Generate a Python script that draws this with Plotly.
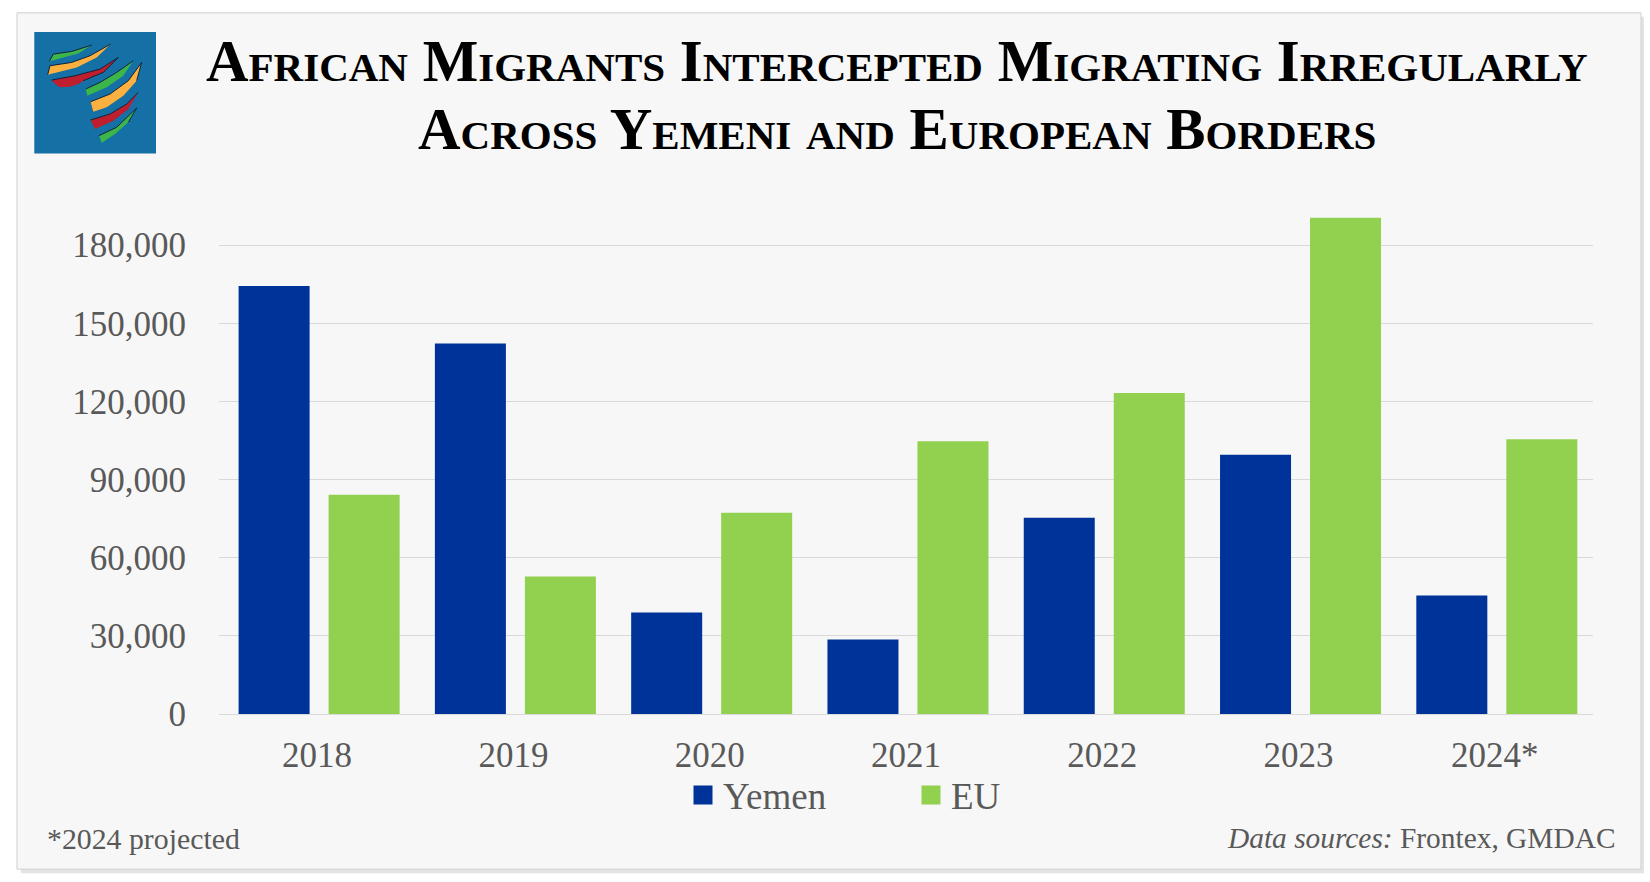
import plotly.graph_objects as go

years = ["2018", "2019", "2020", "2021", "2022", "2023", "2024*"]
yemen = [164300, 142200, 39000, 28600, 75300, 99500, 45500]
eu = [84200, 52800, 77300, 104700, 123200, 190500, 105500]
series_names = ["Yemen", "EU"]
series_colors = ["#003399", "#92d050"]

W, H = 1650, 882
L, R, T, B = 219, 1593, 192.5, 714.5
SERIF = "Liberation Serif"
GREY = "#595959"


def px(x):
    return (x - L) / (R - L)


def py(y):
    return (B - y) / (B - T)


def rect(x0, y0, x1, y1, fill, line=None):
    return dict(type="rect", xref="paper", yref="paper", layer="below",
                x0=px(x0), x1=px(x1), y0=py(y0), y1=py(y1), fillcolor=fill,
                line=dict(width=1 if line else 0, color=line or fill))


def path(points, fill=None, line=None, width=1, close=True):
    # logo artwork, given in zoomed (3x) picture pixels
    d = "M " + " L ".join(f"{px(a / 3):.5f},{py(b / 3):.5f}" for a, b in points)
    if close:
        d += " Z"
    return dict(type="path", xref="paper", yref="paper", layer="above", path=d,
                fillcolor=fill or "rgba(0,0,0,0)",
                line=dict(width=width if line else 0, color=line or "rgba(0,0,0,0)"))


logo_bands = [
    ("#3cb54a", [(148, 182), (160, 160), (215, 152), (275, 133), (235, 158), (190, 170)]),
    ("#fbb040", [(143, 222), (150, 195), (215, 185), (270, 165), (332, 130), (290, 170), (230, 200), (170, 215)]),
    ("#be1e2d", [(155, 238), (225, 225), (300, 205), (355, 170), (310, 215), (250, 240), (235, 250), (210, 258), (180, 260), (165, 250)]),
    ("#3cb54a", [(257, 265), (300, 245), (350, 215), (400, 180), (370, 225), (320, 260), (262, 285)]),
    ("#fbb040", [(272, 303), (330, 280), (385, 240), (425, 185), (410, 240), (370, 285), (320, 320), (280, 333)]),
    ("#be1e2d", [(272, 358), (330, 340), (380, 310), (415, 275), (385, 325), (340, 360), (285, 385)]),
    ("#3cb54a", [(297, 405), (350, 380), (410, 322), (385, 365), (345, 400), (305, 427)]),
]

shapes = [
    rect(21, 16, 1644, 874, "#e4e4e4"),
    rect(17, 12, 1641, 870, "#f7f7f7", "#cfcfcf"),
    rect(34.3, 31.3, 156, 153, "#1570a6"),
]
for color, pts in logo_bands:
    shapes.append(path(pts, fill=color))
    top = pts[: max(3, len(pts) // 2 + 1)]
    shapes.append(path(top, line="#10233a", width=1, close=False))

fig = go.Figure()
for name, color, values in zip(series_names, series_colors, [yemen, eu]):
    fig.add_bar(name=name, x=years, y=values, showlegend=False,
                marker=dict(color=color, line_width=0))
# legend keys: square swatches, the size of the reference's
for name, color in zip(series_names, series_colors):
    fig.add_scatter(name=name, x=[None], y=[None], mode="markers",
                    marker=dict(symbol="square", size=16, color=color,
                                line=dict(width=3, color=color)))

annotations = [
    dict(text="African Migrants Intercepted Migrating Irregularly", x=px(897), y=py(61),
         font=dict(family=SERIF, size=58.9, color="#000000", weight="bold", variant="small-caps")),
    dict(text="Across Yemeni and European Borders", x=px(897), y=py(129),
         font=dict(family=SERIF, size=58.9, color="#000000", weight="bold", variant="small-caps")),
    dict(text="*2024 projected", x=px(45), y=py(839), xanchor="left",
         font=dict(family=SERIF, size=29.8, color=GREY)),
    dict(text="<i>Data sources:</i> Frontex, GMDAC", x=px(1618), y=py(839), xanchor="right",
         font=dict(family=SERIF, size=29.4, color=GREY)),
]
for a in annotations:
    a.update(xref="paper", yref="paper", showarrow=False)
    a.setdefault("xanchor", "center")
    a["yanchor"] = "middle"

fig.update_layout(
    width=W, height=H, autosize=False,
    margin=dict(l=L, r=W - R, t=T, b=H - B, pad=0),
    paper_bgcolor="#ffffff", plot_bgcolor="rgba(0,0,0,0)",
    barmode="group", bargap=0.083, bargroupgap=0.211,
    font=dict(family=SERIF, color=GREY, size=35),
    shapes=shapes, annotations=annotations,
    legend=dict(orientation="h", x=px(683), y=py(796), xanchor="left", yanchor="middle",
                font=dict(family=SERIF, size=37, color=GREY),
                entrywidth=183, entrywidthmode="pixels", bgcolor="rgba(0,0,0,0)",
                itemclick=False, itemdoubleclick=False),
    xaxis=dict(type="category", categoryorder="array", categoryarray=years, range=[-0.51, 6.49],
               showgrid=False, showline=True, linecolor="#d9d9d9", linewidth=1,
               ticks="", ticklabelstandoff=10, ticklabelshift=-2,
               tickfont=dict(size=35, color=GREY), automargin=False),
    yaxis=dict(range=[0, 200000], tickvals=[0, 30000, 60000, 90000, 120000, 150000, 180000],
               tickformat=",", showgrid=True, gridcolor="#d9d9d9", gridwidth=1, zeroline=False,
               ticks="", ticklabelstandoff=32, tickfont=dict(size=35, color=GREY), automargin=False),
)

fig.write_html("out.html", config=dict(displayModeBar=False),
               post_script="document.body.style.margin='0';document.documentElement.style.overflow='hidden';")
